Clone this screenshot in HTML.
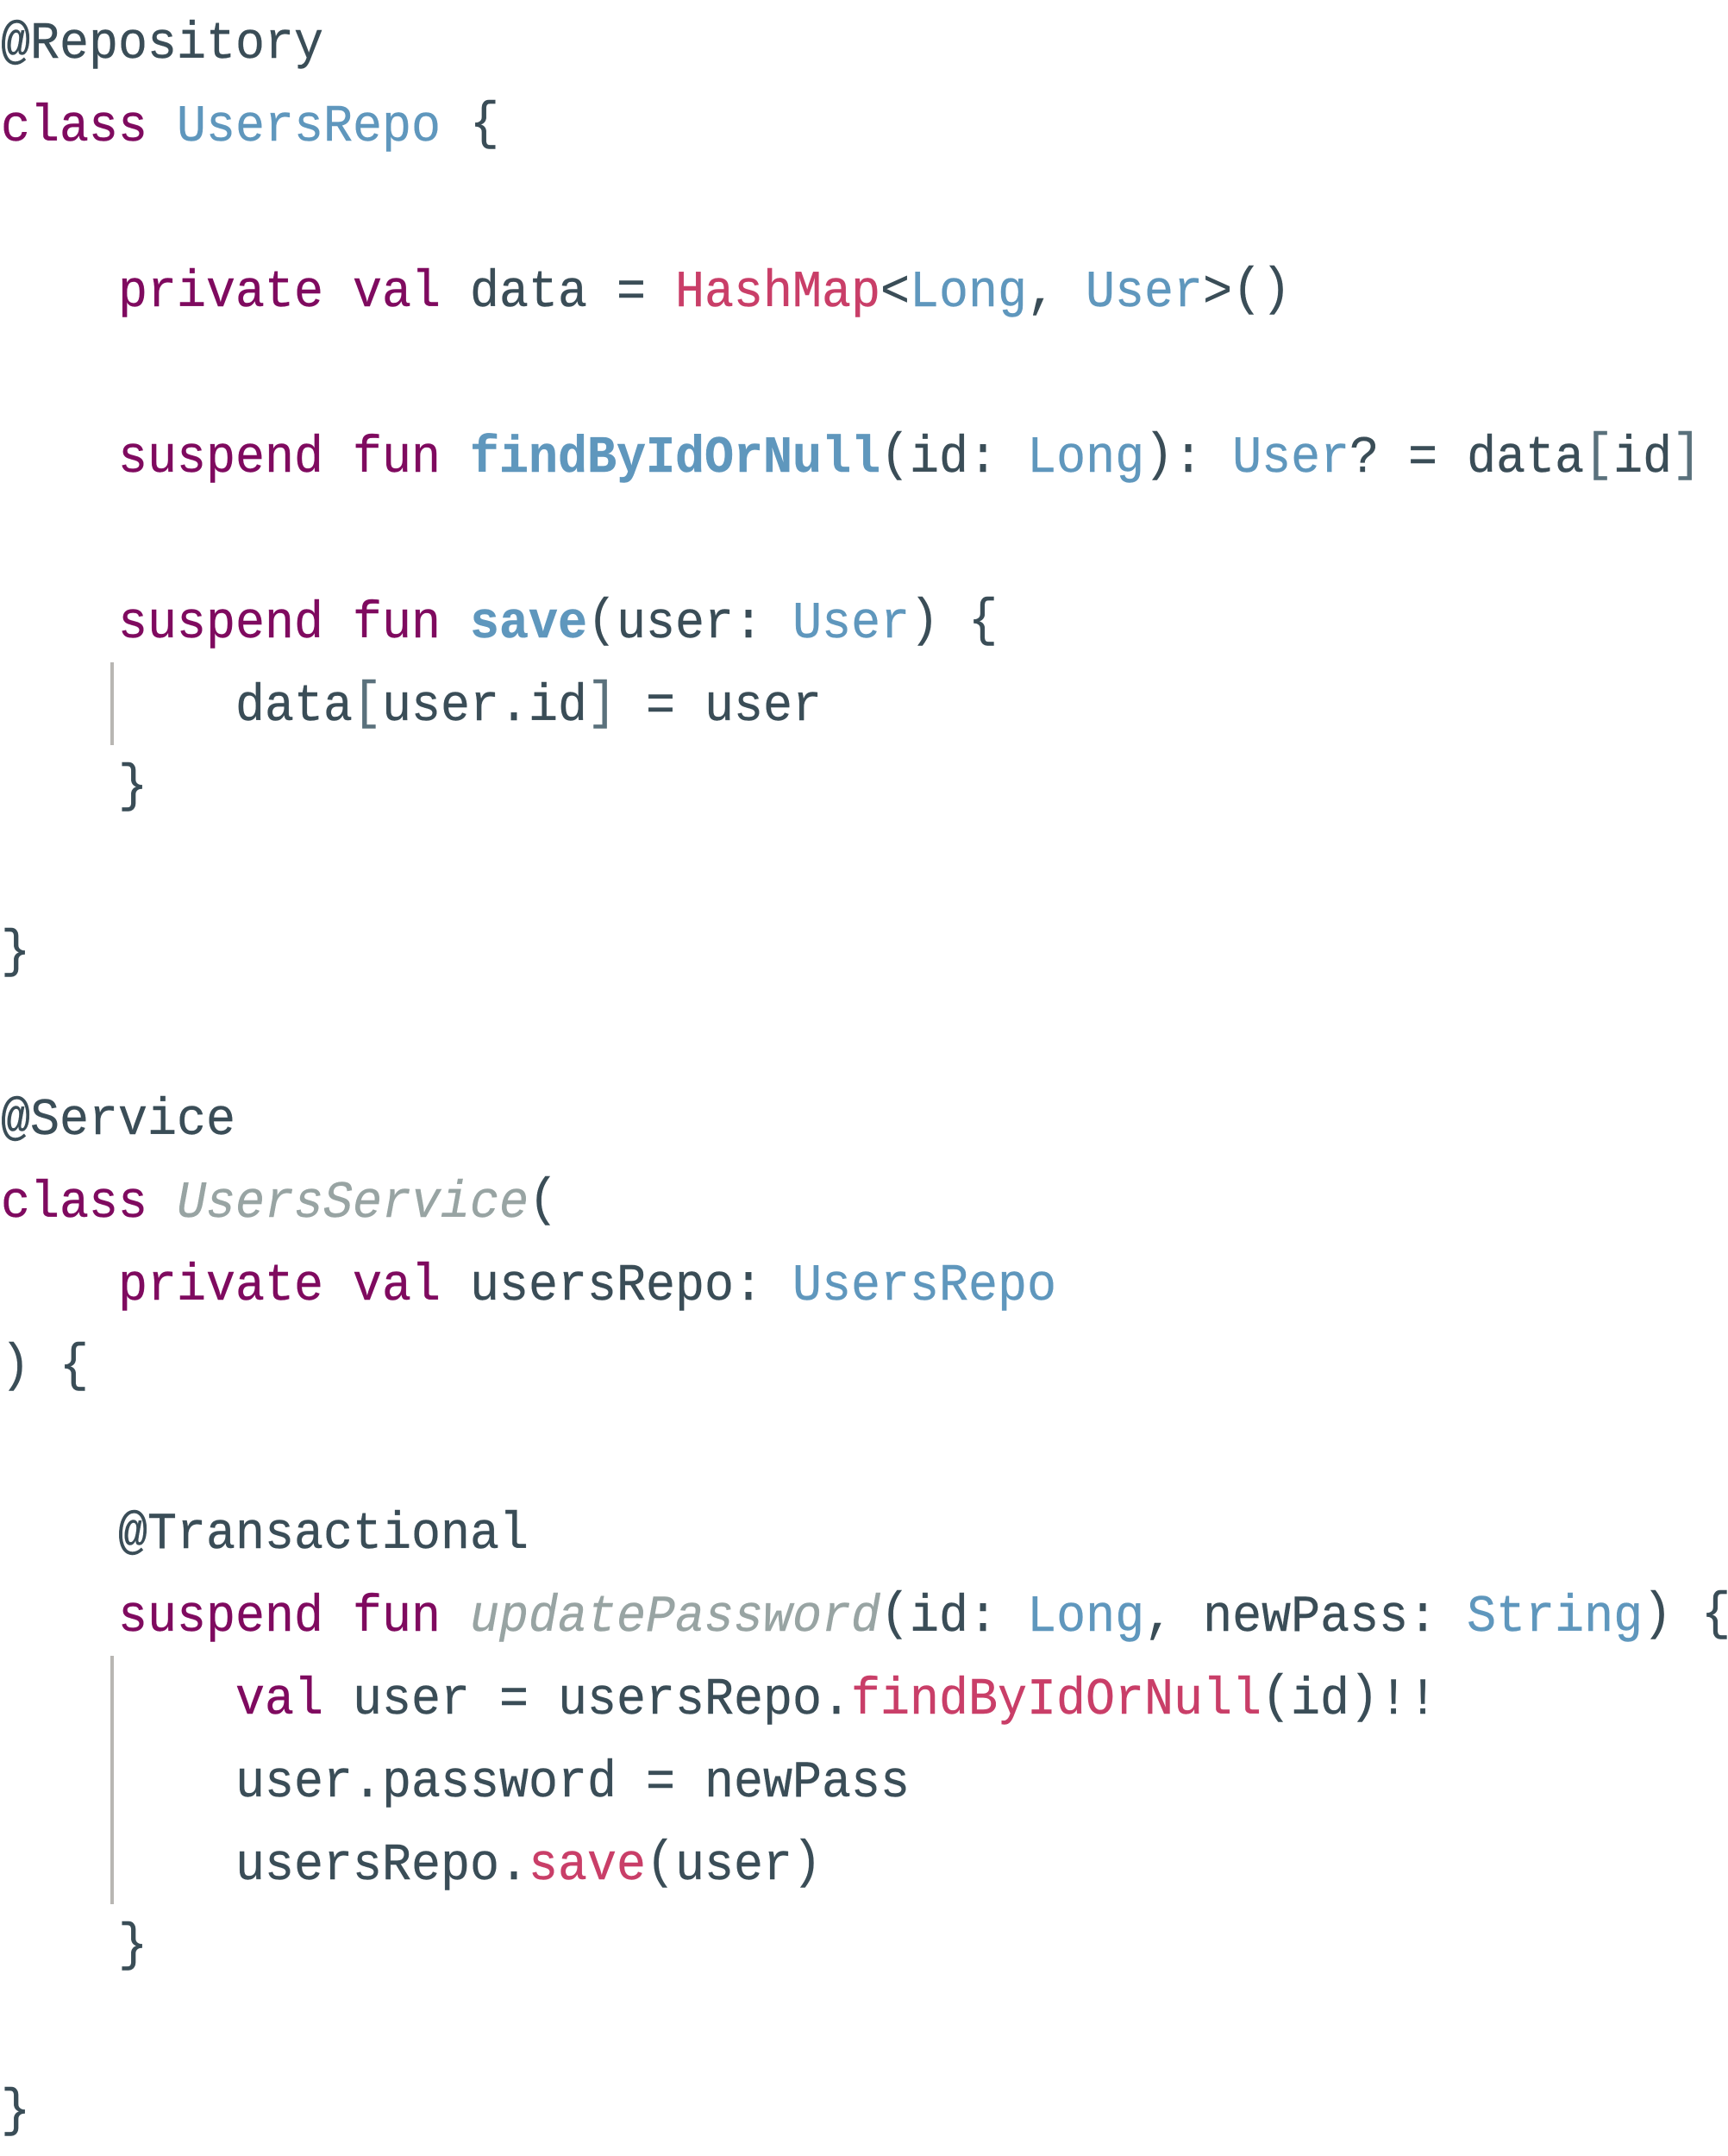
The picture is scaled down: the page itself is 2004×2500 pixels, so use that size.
<!DOCTYPE html>
<html><head><meta charset="utf-8">
<style>
html,body{margin:0;padding:0;background:#fff;width:2004px;height:2496px;overflow:hidden}
pre{position:absolute;left:1px;top:4px;margin:0;font:60px/96px "Liberation Mono","DejaVu Sans Mono",monospace;color:#3a4d57;white-space:pre;transform:scaleX(.9443);transform-origin:0 0;-webkit-text-stroke:.4px currentColor}
.k{color:#7f0a5f}.t{color:#5f97bd}.r{color:#c93e68}.g{color:#98a4a3;font-style:italic}.b{color:#5f97bd;font-weight:bold}
.p{color:#5a717c;position:relative;top:-3px}
i{font-style:normal;position:relative;top:-3px}
.bar{position:absolute;left:128px;width:4px;background:#b8b6b3}
</style></head><body>
<div class="bar" style="top:768px;height:96px"></div>
<div class="bar" style="top:1920px;height:288px"></div>
<pre>@Repository
<span class="k">class</span> <span class="t">UsersRepo</span> <i>{</i>

    <span class="k">private val</span> data = <span class="r">HashMap</span>&lt;<span class="t">Long</span>, <span class="t">User</span>&gt;<i>()</i>

    <span class="k">suspend fun</span> <span class="b">findByIdOrNull</span><i>(</i>id: <span class="t">Long</span><i>)</i>: <span class="t">User</span>? = data<span class="p">[</span>id<span class="p">]</span>

    <span class="k">suspend fun</span> <span class="b">save</span><i>(</i>user: <span class="t">User</span><i>)</i> <i>{</i>
        data<span class="p">[</span>user.id<span class="p">]</span> = user
    <i>}</i>

<i>}</i>

@Service
<span class="k">class</span> <span class="g">UsersService</span><i>(</i>
    <span class="k">private val</span> usersRepo: <span class="t">UsersRepo</span>
<i>)</i> <i>{</i>

    @Transactional
    <span class="k">suspend fun</span> <span class="g">updatePassword</span><i>(</i>id: <span class="t">Long</span>, newPass: <span class="t">String</span><i>)</i> <i>{</i>
        <span class="k">val</span> user = usersRepo.<span class="r">findByIdOrNull</span><i>(</i>id<i>)</i>!!
        user.password = newPass
        usersRepo.<span class="r">save</span><i>(</i>user<i>)</i>
    <i>}</i>

<i>}</i></pre>
</body></html>
